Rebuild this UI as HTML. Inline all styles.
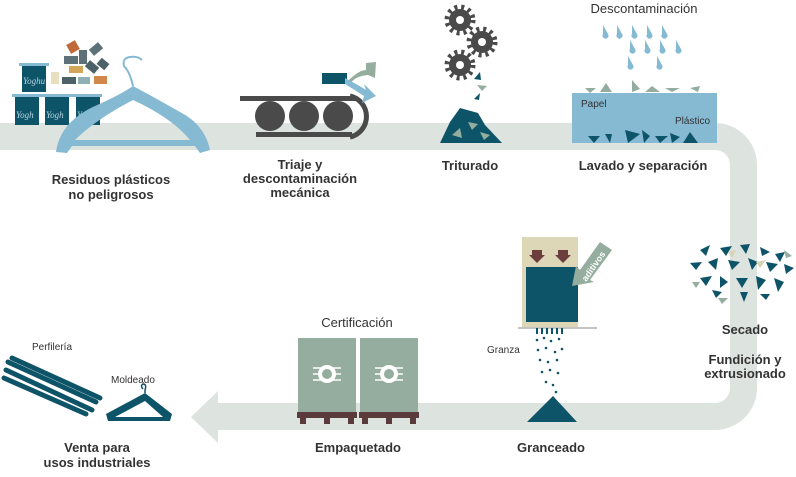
<!DOCTYPE html>
<html><head><meta charset="utf-8"><style>
html,body{margin:0;padding:0;background:#fff;}
svg{display:block;font-family:"Liberation Sans",sans-serif;}
.b{font-weight:bold;font-size:13px;fill:#333;text-anchor:middle;}
.r{font-size:10px;fill:#333;}
</style></head><body>
<svg width="796" height="477" viewBox="0 0 796 477" xmlns="http://www.w3.org/2000/svg">
<!-- band -->
<path d="M0 123 H715 A42 42 0 0 1 757 165 V388 A42 42 0 0 1 715 430 H215 V403 H715 A15 15 0 0 0 730 388 V165 A15 15 0 0 0 715 150 H0 Z" fill="#dde3df"/>
<polygon points="191,417 218,391 218,443" fill="#dde3df"/>

<!-- yogurt cups -->
<g fill="#0e5468">
<rect x="22" y="65" width="24" height="27"/><rect x="15" y="96" width="24" height="29"/><rect x="45" y="96" width="24" height="29"/><rect x="76" y="96" width="24" height="29"/>
</g>
<g fill="#86b9d2"><rect x="19" y="63" width="30" height="3"/><rect x="12" y="94" width="90" height="3"/></g>
<g font-family="Liberation Serif" font-style="italic" font-size="9" fill="#b5d3e2">
<text x="23" y="84">Yoghu</text><text x="16" y="118">Yogh</text><text x="46" y="118">Yogh</text><text x="77" y="118">Yogh</text></g>
<g>
<rect x="68" y="42" width="10" height="10" fill="#c06a3a" transform="rotate(-30 73 47)"/>
<rect x="64" y="56" width="14" height="8" fill="#5f7178"/><rect x="79" y="50" width="8" height="14" fill="#5f7178"/>
<rect x="90" y="45" width="12" height="8" fill="#5f7178" transform="rotate(-40 96 49)"/>
<rect x="69" y="66" width="14" height="7" fill="#d4a65a"/><rect x="86" y="63" width="12" height="8" fill="#4d6168" transform="rotate(40 92 67)"/>
<rect x="98" y="60" width="10" height="8" fill="#4d6168" transform="rotate(40 103 64)"/>
<rect x="51" y="72" width="8" height="12" fill="#e8dfc0"/><rect x="62" y="77" width="14" height="7" fill="#4d6168"/>
<rect x="78" y="77" width="12" height="7" fill="#8fb0b5"/><rect x="94" y="76" width="13" height="8" fill="#d2884a"/>
</g>
<!-- hanger -->
<path d="M133 86 Q130 72 124 66 Q122 58 130 57 Q138 56 142 60" fill="none" stroke="#86b9d2" stroke-width="2"/>
<path d="M133 86 Q150 95 180 112 Q205 125 210 150 L200 153 L195 146 L72 146 L67 153 L56 152 Q60 122 95 106 Q120 95 133 86 Z M75 140 H190 Q172 118 133 100 Q95 120 75 140 Z" fill="#86b9d2" fill-rule="evenodd"/>

<!-- conveyor -->
<rect x="240" y="96" width="116" height="5" fill="#4a4a4a"/>
<rect x="256" y="132" width="96" height="5" fill="#4a4a4a"/>
<path d="M350 96 A21 21 0 0 1 350 137" fill="none" stroke="#4a4a4a" stroke-width="5"/>
<g fill="#4a4a4a"><circle cx="270" cy="116" r="15"/><circle cx="304" cy="116" r="15"/><circle cx="338" cy="116" r="15"/></g>
<rect x="322" y="73" width="25" height="11" fill="#0e5468"/>
<path d="M345 84 Q358 70 366 70 L366 63 L376 62 L375 78 L368 75 Q355 76 350 84 Z" fill="#95ad9e"/>
<path d="M345 78 Q360 86 366 90 L364 84 L376 96 L362 103 L364 96 Q355 90 345 84 Z" fill="#86b9d2"/>

<!-- gears -->
<g fill="#4a4a4a">
<circle cx="460" cy="20" r="11"/><circle cx="482" cy="42" r="11"/><circle cx="460" cy="65" r="11"/>
<g stroke="#4a4a4a" stroke-width="5" stroke-dasharray="3 3.9"><circle cx="460" cy="20" r="13" fill="none"/><circle cx="482" cy="42" r="13" fill="none"/><circle cx="460" cy="65" r="13" fill="none"/></g>
</g>
<g fill="#fff"><circle cx="460" cy="20" r="4"/><circle cx="482" cy="42" r="4"/><circle cx="460" cy="65" r="4"/></g>
<polygon points="480,72 481,80 474,79" fill="#0e5468"/><polygon points="477,85 487,86 482,91" fill="#95ad9e"/><polygon points="474,99 480,93 479,100" fill="#0e5468"/>
<polygon points="440,143 450,122 460,108 478,113 485,125 502,143" fill="#0e5468"/>
<g fill="#95ad9e"><polygon points="452,135 460,128 462,138"/><polygon points="468,122 478,124 472,130"/><polygon points="480,132 490,135 484,140"/></g>

<!-- descontaminación -->
<text x="644" y="13" font-size="13" fill="#333" text-anchor="middle">Descontaminación</text>
<g fill="#86b9d2">
<path d="M603 25 l5 9 a3 3 0 1 1 -5 0z"/><path d="M617 25 l5 9 a3 3 0 1 1 -5 0z"/><path d="M632 25 l5 9 a3 3 0 1 1 -5 0z"/><path d="M647 25 l5 9 a3 3 0 1 1 -5 0z"/><path d="M662 25 l5 9 a3 3 0 1 1 -5 0z"/>
<path d="M630 40 l5 9 a3 3 0 1 1 -5 0z"/><path d="M645 40 l5 9 a3 3 0 1 1 -5 0z"/><path d="M660 40 l5 9 a3 3 0 1 1 -5 0z"/><path d="M676 40 l5 9 a3 3 0 1 1 -5 0z"/>
<path d="M628 56 l5 9 a3 3 0 1 1 -5 0z"/><path d="M657 56 l5 9 a3 3 0 1 1 -5 0z"/>
</g>
<g fill="#95ad9e"><polygon points="585,88 596,88 590,93"/><polygon points="600,92 606,83 612,92"/><polygon points="632,80 640,89 632,92"/><polygon points="645,92 652,86 660,92"/><polygon points="665,88 680,88 672,92"/><polygon points="690,88 700,86 698,92"/></g>
<rect x="572" y="93" width="145" height="50" fill="#86b9d2"/>
<text x="581" y="107" class="r">Papel</text>
<text x="675" y="124" class="r">Plástico</text>
<g fill="#0e5468"><polygon points="588,136 600,136 594,143"/><polygon points="605,134 612,134 610,143"/><polygon points="625,130 640,134 628,143"/><polygon points="642,130 650,136 644,143"/><polygon points="655,136 668,136 660,143"/><polygon points="670,133 680,137 672,143"/><polygon points="683,143 690,132 698,143"/></g>

<text x="111" y="184" class="b">Residuos plásticos</text>
<text x="111" y="199" class="b">no peligrosos</text>
<text x="300" y="169" class="b">Triaje y</text>
<text x="300" y="183" class="b">descontaminación</text>
<text x="300" y="197" class="b">mecánica</text>
<text x="470" y="170" class="b">Triturado</text>
<text x="643" y="170" class="b">Lavado y separación</text>

<!-- secado particles -->
<g fill="#0e5468">
<polygon points="700,250 710,245 706,256"/><polygon points="720,248 732,246 726,256"/><polygon points="740,245 750,244 746,254"/><polygon points="760,247 770,252 762,256"/><polygon points="775,254 785,252 780,262"/>
<polygon points="690,263 702,262 696,270"/><polygon points="708,262 718,258 716,270"/><polygon points="728,260 740,262 732,270"/><polygon points="748,258 758,262 752,270"/><polygon points="766,262 778,264 770,272"/><polygon points="784,264 794,268 786,274"/>
<polygon points="700,278 712,276 706,286"/><polygon points="720,276 728,282 720,288"/><polygon points="736,278 748,278 742,288"/><polygon points="756,276 766,280 758,290"/><polygon points="774,278 784,282 778,292"/>
<polygon points="712,290 722,292 716,298"/><polygon points="740,292 748,292 744,302"/><polygon points="760,294 770,294 766,300"/>
</g>
<g fill="#95ad9e"><polygon points="692,282 700,282 696,288"/><polygon points="718,298 728,298 722,304"/><polygon points="784,250 792,256 786,258"/></g>
<g fill="#d8d3b4"><polygon points="728,252 736,250 732,258"/><polygon points="756,262 766,260 760,268"/></g>
<text x="745" y="334" class="b">Secado</text>
<text x="745" y="364" class="b">Fundición y</text>
<text x="745" y="378" class="b">extrusionado</text>

<!-- hopper -->
<rect x="522" y="237" width="56" height="90" fill="#ddd7b8"/>
<rect x="526" y="267" width="52" height="55" fill="#0e5468"/>
<g fill="#6b3d3d"><polygon points="532,250 542,250 542,255 545,255 537,263 529,255 532,255"/><polygon points="558,250 568,250 568,255 571,255 563,263 555,255 558,255"/></g>
<polygon points="600,242 612,250 590,280 594,282 572,286 576,266 580,270" fill="#95ad9e"/>
<text x="596" y="268" font-size="9" font-weight="bold" fill="#fff" transform="rotate(-55 596 268)" text-anchor="middle">aditivos</text>
<line x1="518" y1="328" x2="597" y2="328" stroke="#888" stroke-width="1"/>
<g fill="#0e5468">
<rect x="536" y="328" width="2" height="6"/><rect x="541" y="328" width="2" height="6"/><rect x="546" y="328" width="2" height="6"/><rect x="551" y="328" width="2" height="6"/><rect x="556" y="328" width="2" height="6"/><rect x="561" y="328" width="2" height="6"/>
<circle cx="537" cy="340" r="1.3"/><circle cx="544" cy="338" r="1.3"/><circle cx="551" cy="341" r="1.3"/><circle cx="559" cy="339" r="1.3"/><circle cx="538" cy="350" r="1.3"/><circle cx="546" cy="348" r="1.3"/><circle cx="555" cy="352" r="1.3"/><circle cx="562" cy="349" r="1.3"/>
<circle cx="540" cy="360" r="1.3"/><circle cx="548" cy="362" r="1.3"/><circle cx="557" cy="360" r="1.3"/><circle cx="542" cy="372" r="1.3"/><circle cx="550" cy="370" r="1.3"/><circle cx="558" cy="373" r="1.3"/><circle cx="546" cy="382" r="1.3"/><circle cx="553" cy="385" r="1.3"/><circle cx="556" cy="392" r="1.3"/>
</g>
<text x="487" y="353" class="r">Granza</text>
<polygon points="527,422 553,396 577,422" fill="#0e5468"/>
<text x="551" y="452" class="b">Granceado</text>

<!-- bags -->
<text x="357" y="327" font-size="13" fill="#333" text-anchor="middle">Certificación</text>
<g fill="#95ad9e"><path d="M298 338 h58 v75 h-58z"/><path d="M360 338 h58 v75 h-58z"/></g>
<g stroke="#fff" stroke-width="1.5"><line x1="313" y1="368" x2="341" y2="368"/><line x1="313" y1="374" x2="341" y2="374"/><line x1="313" y1="380" x2="341" y2="380"/><line x1="375" y1="368" x2="403" y2="368"/><line x1="375" y1="374" x2="403" y2="374"/><line x1="375" y1="380" x2="403" y2="380"/></g>
<g fill="#fff"><circle cx="327" cy="374" r="9"/><circle cx="389" cy="374" r="9"/></g>
<g fill="#95ad9e"><circle cx="327" cy="374" r="5"/><circle cx="389" cy="374" r="5"/></g>
<g fill="#5a3a3a"><rect x="297" y="412" width="60" height="6"/><rect x="359" y="412" width="60" height="6"/><rect x="300" y="418" width="6" height="6"/><rect x="324" y="418" width="6" height="6"/><rect x="348" y="418" width="6" height="6"/><rect x="362" y="418" width="6" height="6"/><rect x="386" y="418" width="6" height="6"/><rect x="410" y="418" width="6" height="6"/></g>
<text x="358" y="452" class="b">Empaquetado</text>

<!-- pipes -->
<text x="32" y="350" class="r">Perfilería</text>
<g stroke="#0e5468" stroke-width="5" stroke-linecap="round">
<line x1="8" y1="362" x2="96" y2="402"/><line x1="6" y1="370" x2="92" y2="410"/><line x1="4" y1="378" x2="86" y2="414"/><line x1="12" y1="358" x2="100" y2="398"/>
</g>
<text x="111" y="383" class="r">Moldeado</text>
<path d="M143 389 Q140 386 143 384 Q147 384 145 390 L145 393" fill="none" stroke="#0e5468" stroke-width="1.5"/>
<path d="M145 393 L172 414 L170 421 L108 421 L106 414 Z M115 417 H163 L145 401 Z" fill="#0e5468" fill-rule="evenodd"/>
<text x="97" y="452" class="b">Venta para</text>
<text x="97" y="467" class="b">usos industriales</text>
</svg>
</body></html>
